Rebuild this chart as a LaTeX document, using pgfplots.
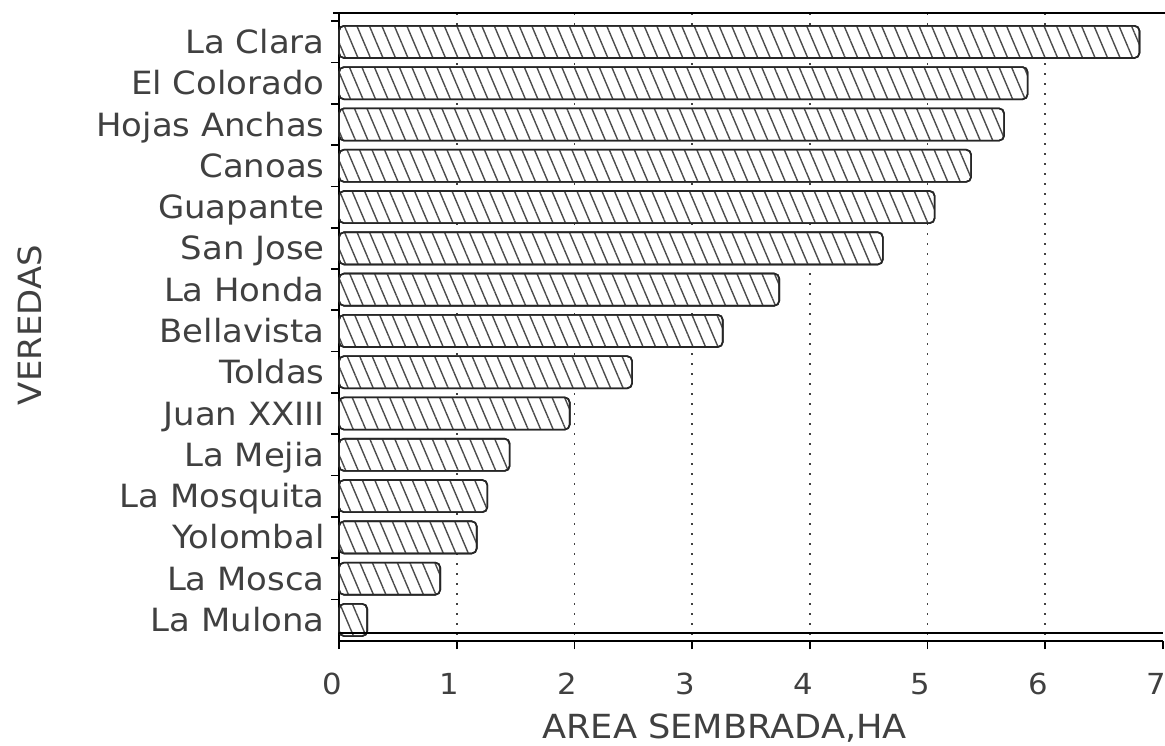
\documentclass[border=0pt]{standalone}
\usepackage{pgfplots}
\pgfplotsset{compat=1.18}
\usepackage{pgfplotstable}
\usepackage{fontspec}
\setmainfont{DejaVu Sans}[FakeStretch=1.06]
\usetikzlibrary{patterns.meta}

% Area sown per vereda (ha), top to bottom
\pgfplotstableread{
idx area
0  6.80
1  5.85
2  5.65
3  5.37
4  5.06
5  4.62
6  3.74
7  3.26
8  2.49
9  1.96
10 1.45
11 1.26
12 1.17
13 0.86
14 0.24
}\veredas

\begin{document}
\begin{tikzpicture}
\useasboundingbox (-169.5pt,-52pt) rectangle (413pt,320.5pt);
\begin{axis}[
  at={(0,0)}, anchor=south west,
  scale only axis, width=412pt, height=314pt,
  xmin=0, xmax=7, ymin=-0.70, ymax=14.51, y dir=reverse,
  axis x line*=bottom, axis y line*=left,
  axis line style={black, line width=0.8pt},
  xtick={0,...,7},
  ytick={0,...,14},
  yticklabels={La Clara,El Colorado,Hojas Anchas,Canoas,Guapante,San Jose,La Honda,Bellavista,Toldas,Juan XXIII,La Mejia,La Mosquita,Yolombal,La Mosca,La Mulona},
  minor ytick={-0.5,0.5,...,13.5},
  tick align=outside,
  major tick length=4pt, minor tick length=4pt,
  major x tick style={black, line width=0.8pt},
  major y tick style={draw=none},
  minor y tick style={black, line width=0.8pt},
  extra x ticks={1,...,6},
  extra x tick labels={},
  extra x tick style={grid=major},
  grid style={black!75, line width=0.8pt, dash pattern=on 1pt off 4pt},
  /pgf/number format/assume math mode=true,
  xticklabel style={font=\fontsize{14.5}{17}\selectfont, anchor=north, inner sep=0pt, yshift=-12pt, xshift=-3.5pt, text=black!75},
  yticklabel style={font=\fontsize{16}{19}\selectfont, anchor=base east, inner sep=0pt, xshift=-3pt, yshift=-5.8pt, text=black!75},
  xlabel={AREA SEMBRADA,HA},
  xlabel style={font=\fontsize{16.6}{20}\selectfont, at={(axis description cs:0.468,0)}, anchor=north, inner sep=0pt, yshift=-36pt, text=black!75},
  ylabel={VEREDAS},
  ylabel style={font=\fontsize{16}{19}\selectfont, at={(axis description cs:-0.375,0.503)}, anchor=center, inner sep=0pt, text=black!75},
  clip=false,
]
\addplot[xbar, bar width=0.78, fill=white, draw=black!85, line width=0.8pt, rounded corners=2.5pt,
  postaction={pattern={Lines[angle=-67, distance=5.75pt, line width=0.7pt]}, pattern color=black!70}]
  table[x=area, y=idx] {\veredas};
% frame lines above and just over the axis
\draw[black, line width=0.8pt] ([xshift=-3pt]axis description cs:0,1) -- ([xshift=1pt]axis description cs:1,1);
\draw[black, line width=0.8pt] ([yshift=4pt]axis description cs:0,0) -- ([yshift=4pt]axis description cs:1,0);
\end{axis}
\end{tikzpicture}
\end{document}
